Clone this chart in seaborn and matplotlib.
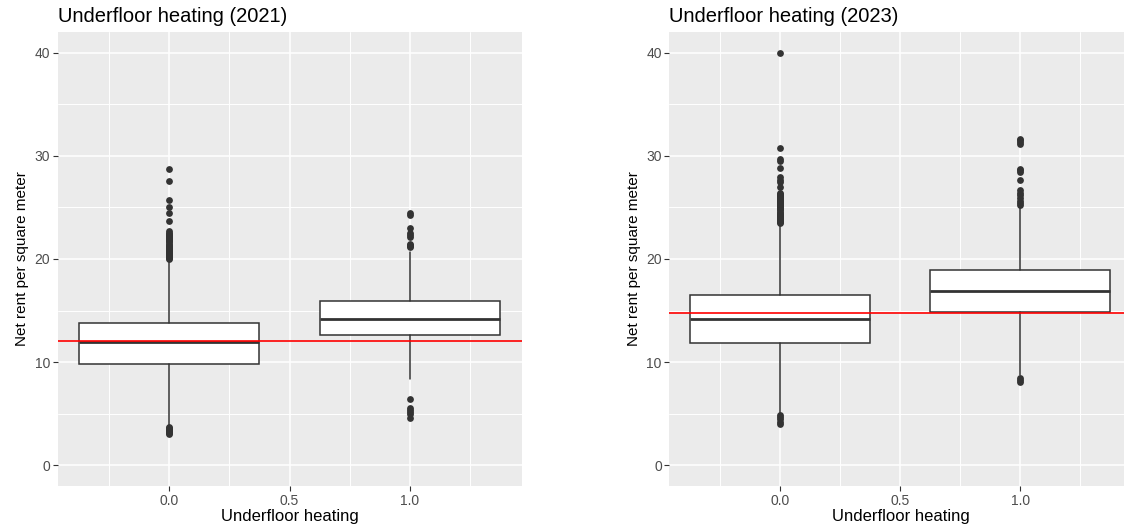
import pandas as pd
import matplotlib.pyplot as plt
import seaborn as sns

# --- values ---
GROUPS = [0.0, 1.0]  # no underfloor heating / underfloor heating

# 2021 box stats per group
WHISK_LO_2021 = [3.9, 8.4]
Q1_2021 = [9.8, 12.6]
MED_2021 = [11.95, 14.15]
Q3_2021 = [13.8, 15.9]
WHISK_HI_2021 = [19.7, 20.7]
REF_LINE_2021 = 12.08

# 2023 box stats per group
WHISK_LO_2023 = [5.1, 8.8]
Q1_2023 = [11.9, 14.85]
MED_2023 = [14.15, 16.85]
Q3_2023 = [16.5, 18.95]
WHISK_HI_2023 = [23.4, 25.1]
REF_LINE_2023 = 14.8

# outliers
OUT_2021_G0 = [20.0, 20.1, 20.2, 20.3, 20.4, 20.5, 20.6, 20.7, 20.8, 20.9,
               21.0, 21.1, 21.2, 21.3, 21.4, 21.5, 21.6, 21.7, 21.8, 21.9,
               22.0, 22.1, 22.2, 22.3, 22.4, 22.5, 22.75, 23.65, 24.45,
               25.05, 25.75, 27.55, 28.75,
               3.0, 3.1, 3.2, 3.3, 3.4, 3.5, 3.6, 3.7]
OUT_2021_G1 = [21.2, 21.3, 21.4, 21.5, 22.1, 22.3, 22.5, 23.05, 24.3, 24.5,
               4.6, 5.0, 5.2, 5.4, 5.6, 6.4]
OUT_2023_G0 = [23.5, 23.6, 23.7, 23.8, 23.9, 24.0, 24.1, 24.2, 24.3, 24.4,
               24.5, 24.6, 24.7, 24.8, 24.9, 25.0, 25.1, 25.2, 25.3, 25.4,
               25.5, 25.6, 25.7, 25.8, 25.9, 26.0, 26.1, 26.2, 26.3, 26.4,
               27.0, 27.5, 27.7, 27.9, 28.8, 29.5, 29.7, 30.75, 40.0,
               4.0, 4.2, 4.5, 4.7, 4.9]
OUT_2023_G1 = [25.2, 25.4, 25.6, 25.9, 26.2, 26.4, 26.7, 27.65, 28.4, 28.6,
               28.7, 31.1, 31.3, 31.5, 31.6,
               8.1, 8.3, 8.5]

Y_TICKS = [0, 10, 20, 30, 40]
X_TICKS = [0.0, 0.5, 1.0]
X_TICK_LABELS = ["0.0", "0.5", "1.0"]

sns.set_theme(style="darkgrid", rc={"axes.facecolor": "#EBEBEB",
                                    "grid.color": "white"})
plt.rcParams['font.family'] = ['Liberation Sans', 'DejaVu Sans']

LINE = "#333333"


def draw_panel(ax, year, lo, q1, med, q3, hi, outliers, ref):
    stats = []
    for i in range(len(GROUPS)):
        stats.append(dict(whislo=lo[i], q1=q1[i], med=med[i], q3=q3[i],
                          whishi=hi[i], fliers=[]))
    ax.bxp(stats, positions=GROUPS, widths=0.75, patch_artist=True,
           showcaps=False, showfliers=False, manage_ticks=False,
           boxprops=dict(facecolor="white", edgecolor=LINE, linewidth=1.1),
           medianprops=dict(color=LINE, linewidth=2.0),
           whiskerprops=dict(color=LINE, linewidth=1.1))

    # outlier points
    xs, ys = [], []
    for g, vals in zip(GROUPS, outliers):
        xs += [g] * len(vals)
        ys += vals
    df = pd.DataFrame({"x": xs, "y": ys})
    sns.scatterplot(data=df, x="x", y="y", ax=ax, color=LINE, s=24,
                    linewidth=0, zorder=4)

    ax.axhline(ref, color="#FF0000", linewidth=1.2, zorder=5)

    ax.set_xlim(-0.4625, 1.4625)
    ax.set_ylim(-2, 42)
    ax.set_xticks(X_TICKS)
    ax.set_xticklabels(X_TICK_LABELS)
    ax.set_yticks(Y_TICKS)
    ax.set_xticks([-0.25, 0.25, 0.75, 1.25], minor=True)
    ax.set_yticks([5, 15, 25, 35], minor=True)
    ax.grid(which="major", color="white", linewidth=1.1, linestyle="-")
    ax.grid(which="minor", color="white", linewidth=0.7, linestyle="-")
    ax.tick_params(which="major", bottom=True, left=True, length=3.5,
                   width=0.8, color=LINE, labelcolor="#4D4D4D",
                   labelsize=10, pad=2)
    ax.tick_params(which="minor", bottom=False, left=False)
    for s in ax.spines.values():
        s.set_visible(False)

    ax.set_title(f"Underfloor heating ({year})", loc="left", fontsize=14.5,
                 color="black", pad=7)
    ax.set_xlabel("Underfloor heating", fontsize=12, color="black",
                  labelpad=1)
    ax.set_ylabel("Net rent per square meter", fontsize=11, color="black",
                  labelpad=4)


fig = plt.figure(figsize=(11.24, 5.27), dpi=100)
ax1 = fig.add_axes([0.0512, 0.0778, 0.4128, 0.8615])
ax2 = fig.add_axes([0.5956, 0.0778, 0.411, 0.8615])

draw_panel(ax1, 2021, WHISK_LO_2021, Q1_2021, MED_2021, Q3_2021,
           WHISK_HI_2021, [OUT_2021_G0, OUT_2021_G1], REF_LINE_2021)
draw_panel(ax2, 2023, WHISK_LO_2023, Q1_2023, MED_2023, Q3_2023,
           WHISK_HI_2023, [OUT_2023_G0, OUT_2023_G1], REF_LINE_2023)

fig.savefig("out.png", dpi=100, facecolor="white")
